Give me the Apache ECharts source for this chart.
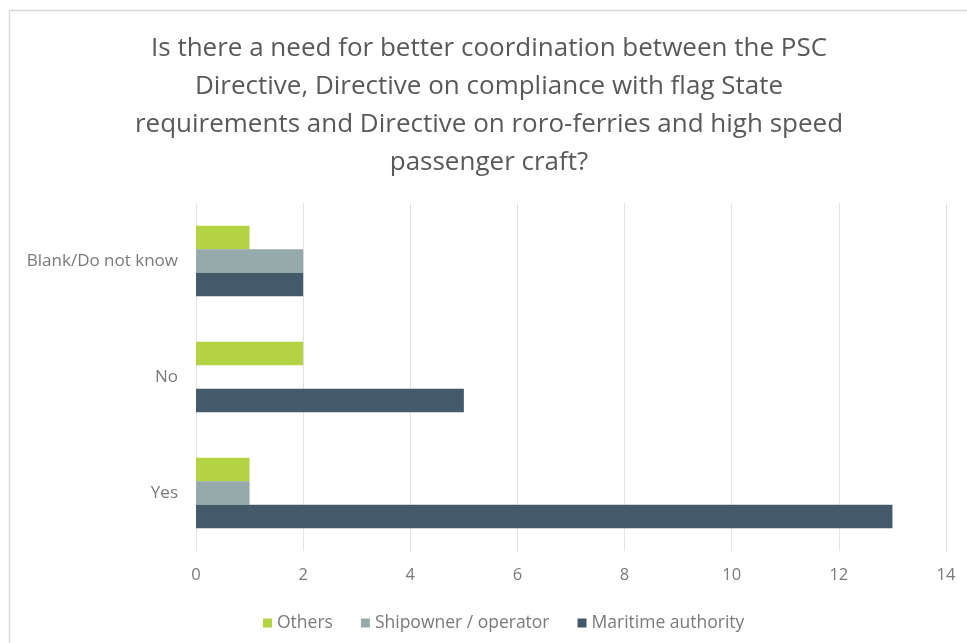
<!DOCTYPE html>
<html>
<head>
<meta charset="utf-8">
<script src="https://cdn.jsdelivr.net/npm/echarts@6/dist/echarts.min.js"></script>
<style>
  html, body { margin: 0; padding: 0; background: #ffffff; }
  #chart { width: 967px; height: 643px; }
</style>
</head>
<body>
<div id="chart"></div>
<script>
// Survey answers per respondent group
const categories = ['Yes', 'No', 'Blank/Do not know'];
const maritimeAuthority = [13, 5, 2];
const shipowner = [1, 0, 2];
const others = [1, 2, 1];
const xTicks = [0, 2, 4, 6, 8, 10, 12, 14];

const titleText = 'Is there a need for better coordination between the PSC\nDirective, Directive on compliance with flag State\nrequirements and Directive on roro-ferries and high speed\npassenger craft?';

const chart = echarts.init(document.getElementById('chart'), null, { renderer: 'canvas' });
const textColor = '#595959';
const labelColor = '#7a7a7a';
const font = '"Open Sans", "Noto Sans", sans-serif';

chart.setOption({
  animation: false,
  backgroundColor: '#ffffff',
  graphic: [{
    type: 'rect',
    shape: { x: 9.5, y: 10.5, width: 1000, height: 700 },
    style: { fill: 'none', stroke: '#d9d9d9', lineWidth: 1.5 },
    silent: true
  }],
  title: {
    text: titleText,
    left: 484,
    top: 25,
    textAlign: 'center',
    textStyle: {
      color: textColor,
      fontFamily: font,
      fontSize: 26,
      fontWeight: 'normal',
      lineHeight: 38
    }
  },
  legend: {
    data: ['Others', 'Shipowner / operator', 'Maritime authority'],
    left: 258,
    top: 609,
    icon: 'rect',
    itemWidth: 9,
    itemHeight: 9,
    itemGap: 28,
    textStyle: { color: labelColor, fontFamily: font, fontSize: 17.5 }
  },
  grid: { left: 196, right: 21, top: 203, bottom: 92 },
  xAxis: {
    type: 'value',
    min: 0,
    max: 14,
    interval: 2,
    axisLine: { show: false },
    axisTick: { show: false },
    axisLabel: {
      color: labelColor, fontFamily: font, fontSize: 16.5, margin: 16,
      formatter: v => (xTicks.indexOf(v) >= 0 ? String(v) : '')
    },
    splitLine: { lineStyle: { color: '#e3e3e3', width: 1 } }
  },
  yAxis: {
    type: 'category',
    data: categories,
    axisLine: { show: false },
    axisTick: { show: false },
    axisLabel: { color: labelColor, fontFamily: font, fontSize: 17, margin: 18 }
  },
  series: [
    {
      name: 'Others', type: 'bar', data: others,
      barWidth: 23.5, barGap: '0%',
      itemStyle: { color: '#b3d345' }
    },
    {
      name: 'Shipowner / operator', type: 'bar', data: shipowner,
      barWidth: 23.5, barGap: '0%',
      itemStyle: { color: '#97aaab' }
    },
    {
      name: 'Maritime authority', type: 'bar', data: maritimeAuthority,
      barWidth: 23.5, barGap: '0%',
      itemStyle: { color: '#44596a' }
    }
  ]
});
</script>
</body>
</html>
